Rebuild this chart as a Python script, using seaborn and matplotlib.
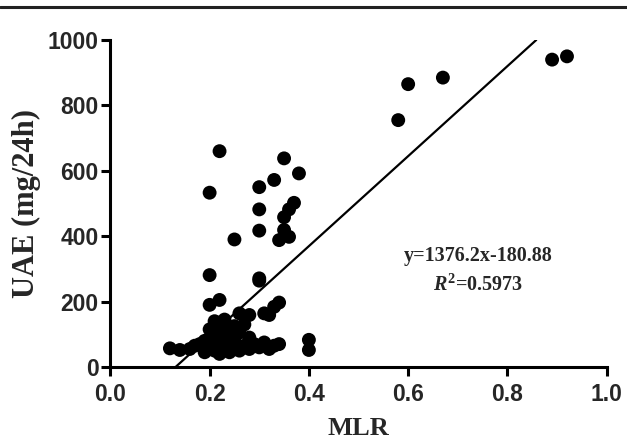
import numpy as np
import pandas as pd
import matplotlib
matplotlib.use('Agg')
import matplotlib.pyplot as plt
import seaborn as sns

# MLR vs UAE values
mlr_high = [0.22, 0.35, 0.38, 0.33, 0.30, 0.20, 0.37, 0.30, 0.36, 0.35, 0.30, 0.35, 0.34, 0.36, 0.25,
            0.20, 0.30, 0.30, 0.22, 0.20, 0.34, 0.33, 0.32, 0.31, 0.28, 0.26]
uae_high = [660, 638, 592, 572, 550, 533, 502, 482, 482, 458, 417, 419, 388, 398, 390,
            281, 271, 264, 205, 190, 197, 184, 159, 164, 159, 164]

mlr_mid = [0.21, 0.22, 0.23, 0.24, 0.20, 0.22, 0.25, 0.21, 0.23, 0.24, 0.26, 0.27, 0.19, 0.22, 0.25, 0.28]
uae_mid = [140, 130, 145, 120, 115, 110, 125, 95, 100, 90, 105, 130, 80, 85, 80, 90]

mlr_low = [0.12, 0.14, 0.16, 0.17, 0.18, 0.19, 0.19, 0.20, 0.21, 0.21, 0.22, 0.23, 0.23, 0.24,
           0.25, 0.25, 0.26, 0.27, 0.28, 0.29, 0.30, 0.31, 0.32, 0.33, 0.34, 0.40, 0.40]
uae_low = [57, 52, 55, 65, 70, 60, 45, 75, 50, 65, 40, 55, 70, 45,
           60, 75, 50, 65, 55, 70, 60, 75, 55, 65, 70, 83, 52]

mlr_top = [0.58, 0.60, 0.67, 0.89, 0.92]
uae_top = [755, 865, 885, 940, 950]

slope = 1376.2
intercept = -180.88
r2 = 0.5973

df = pd.DataFrame({'MLR': mlr_high + mlr_mid + mlr_low + mlr_top,
                   'UAE': uae_high + uae_mid + uae_low + uae_top})

sns.set_style('ticks')
plt.rcParams['font.family'] = ['Liberation Sans', 'DejaVu Sans']
plt.rcParams['mathtext.fontset'] = 'custom'
plt.rcParams['mathtext.rm'] = 'Liberation Serif:bold'
plt.rcParams['mathtext.it'] = 'Liberation Serif:italic:bold'
plt.rcParams['mathtext.bf'] = 'Liberation Serif:bold'

fig = plt.figure(figsize=(6.27, 4.43), dpi=100)
ax = fig.add_axes([0.176, 0.1716, 0.7916, 0.7381])

sns.scatterplot(data=df, x='MLR', y='UAE', ax=ax, color='black', s=100,
                edgecolor='none', linewidth=0, clip_on=False, zorder=3)

# fitted line, cut at y = 0 and y = 1000
line_x = np.array([(0 - intercept) / slope, (1000 - intercept) / slope])
sns.lineplot(x=line_x, y=slope * line_x + intercept, ax=ax, color='black', linewidth=1.6)

ax.set_xlim(0, 1.0)
ax.set_ylim(0, 1000)
ax.set_xticks([0.0, 0.2, 0.4, 0.6, 0.8, 1.0])
ax.set_yticks([0, 200, 400, 600, 800, 1000])
ax.set_xticklabels(['0.0', '0.2', '0.4', '0.6', '0.8', '1.0'])
ax.set_yticklabels(['0', '200', '400', '600', '800', '1000'])
for lab in ax.get_xticklabels() + ax.get_yticklabels():
    lab.set_fontweight('bold')
    lab.set_fontsize(16.5)
ax.tick_params(width=2.2, length=6.5, direction='out', color='black')
ax.tick_params(axis='x', pad=5)
ax.tick_params(axis='y', pad=2)

sns.despine(ax=ax)
for sp in ['left', 'bottom']:
    ax.spines[sp].set_linewidth(2.2)
    ax.spines[sp].set_color('black')

ax.set_xlabel('MLR', fontfamily='Liberation Serif', fontweight='bold', fontsize=19, labelpad=8)
ax.set_ylabel('UAE (mg/24h)', fontfamily='Liberation Serif', fontweight='bold', fontsize=22, labelpad=5)

ax.text(0.741, 0.34, 'y=1376.2x-180.88', transform=ax.transAxes, ha='center', va='center',
        fontfamily='Liberation Serif', fontweight='bold', fontsize=14.5)
ax.text(0.741, 0.25, r'$R^{2}$' + '=%.4f' % r2, transform=ax.transAxes,
        ha='center', va='center', fontfamily='Liberation Serif', fontweight='bold', fontsize=14.5)

# rule across the top of the figure
fig.add_artist(plt.Line2D([0, 1], [0.984, 0.984], transform=fig.transFigure,
                          color='#222222', linewidth=2.2))

fig.savefig('out.png', dpi=100)
